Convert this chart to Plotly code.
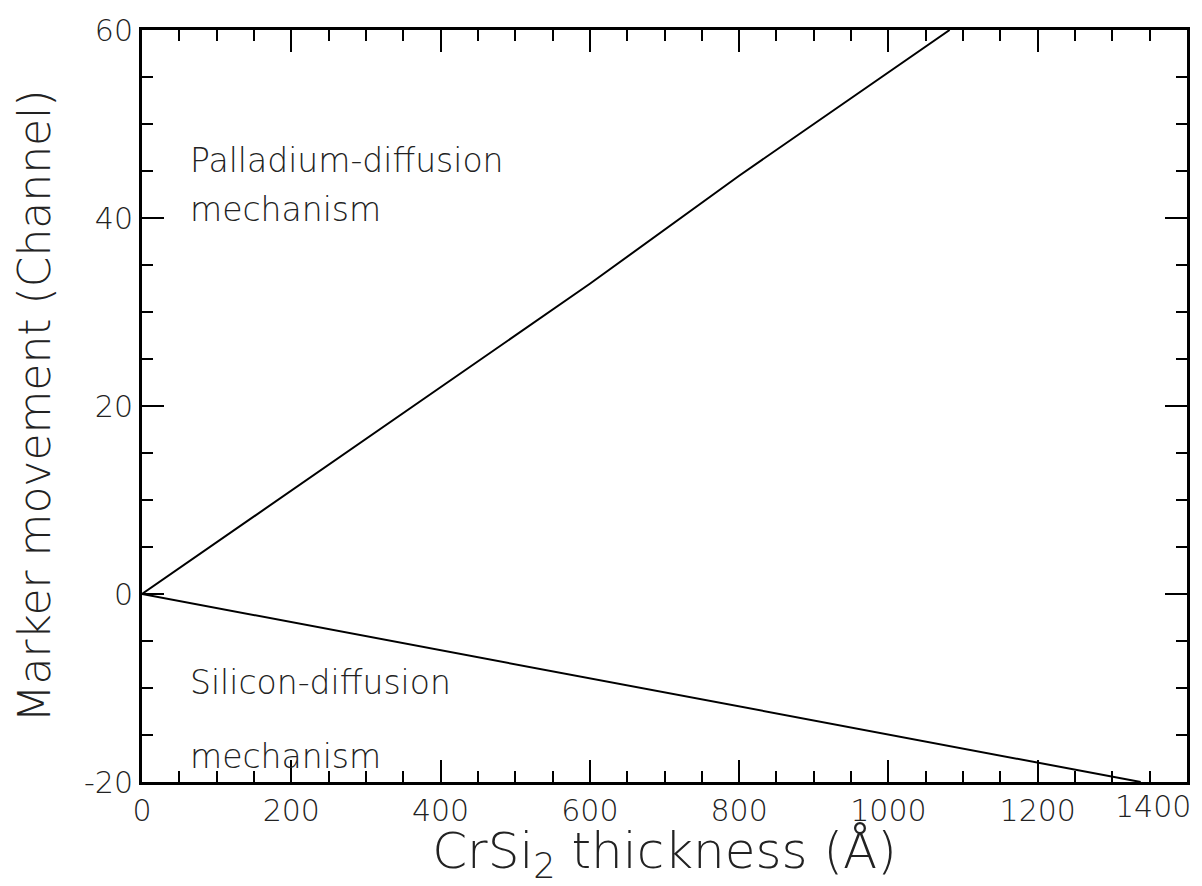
import plotly.graph_objects as go

# Data
pd_x = [0, 200, 400, 600, 800, 1000, 1082]
pd_y = [0, 11, 22, 33, 44.5, 55.5, 60]
si_x = [0, 200, 400, 600, 800, 1000, 1200, 1338]
si_y = [0, -3, -6, -9, -12, -15, -18, -20]

x_ticks = [0, 200, 400, 600, 800, 1000, 1200]
x_tick_labels = ["0", "200", "400", "600", "800", "1000", "1200"]
x_last_label = "1400"
y_ticks = [-20, 0, 20, 40, 60]
y_tick_labels = ["-20", "0", "20", "40", "60"]

FONT = "DejaVu Sans"

fig = go.Figure()
fig.add_trace(go.Scatter(x=pd_x, y=pd_y, mode="lines",
                         line=dict(color="black", width=2), showlegend=False))
fig.add_trace(go.Scatter(x=si_x, y=si_y, mode="lines",
                         line=dict(color="black", width=2), showlegend=False))

axis_common = dict(showline=True, linecolor="black", linewidth=3, mirror="ticks",
                   ticks="inside", tickcolor="black", tickwidth=2, ticklen=22,
                   showgrid=False, zeroline=False,
                   tickfont=dict(family=FONT, size=30, color="#222", weight=300))

fig.update_xaxes(range=[0, 1400], tickvals=x_ticks, ticktext=x_tick_labels,
                 minor=dict(dtick=50, ticks="inside", ticklen=11, tickwidth=2,
                            tickcolor="black", showgrid=False),
                 title=dict(text="CrSi<sub>2</sub> thickness (Å)", standoff=11,
                            font=dict(family=FONT, size=50, color="#222", weight=300)),
                 **axis_common)
fig.update_yaxes(range=[-20, 60], tickvals=y_ticks, ticktext=y_tick_labels,
                 minor=dict(dtick=5, ticks="inside", ticklen=11, tickwidth=2,
                            tickcolor="black", showgrid=False),
                 title=dict(text="Marker movement (Channel)", standoff=20,
                            font=dict(family=FONT, size=44, color="#222", weight=300)),
                 **axis_common)

ann_font = dict(family=FONT, size=33, color="#222", weight=300)
for txt, yv in [("Palladium-diffusion", 46.1), ("mechanism", 40.9),
                ("Silicon-diffusion", -9.4), ("mechanism", -17.3)]:
    fig.add_annotation(x=61, y=yv, text=txt, showarrow=False, xanchor="left",
                       yanchor="middle", font=ann_font)
# right-most x tick label, kept inside the page like the original
fig.add_annotation(x=1400, y=-20, text=x_last_label, showarrow=False, xanchor="right",
                   yanchor="top", yshift=-5, xshift=6,
                   font=dict(family=FONT, size=30, color="#222", weight=300))

fig.update_layout(width=1202, height=886, margin=dict(l=142, r=12, t=26, b=103),
                  paper_bgcolor="white", plot_bgcolor="white")
fig.write_html("out.html")
